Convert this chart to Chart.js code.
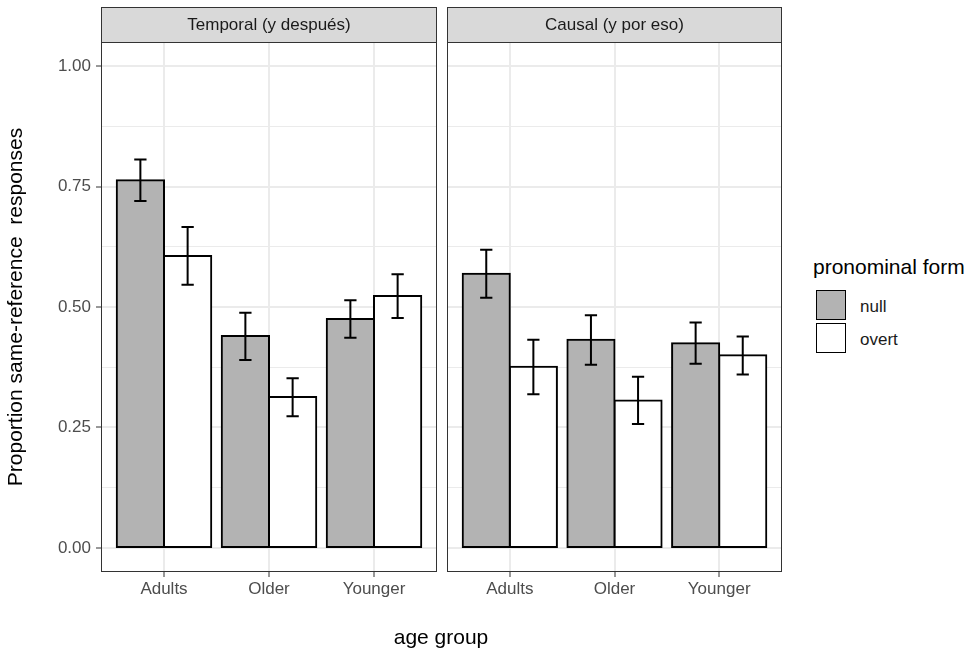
<!DOCTYPE html>
<html>
<head>
<meta charset="utf-8">
<script src="https://cdn.jsdelivr.net/npm/chart.js@4.4.1/dist/chart.umd.min.js"></script>
<style>
  html, body { margin: 0; padding: 0; background: #fff; }
  body { width: 973px; height: 650px; position: relative; overflow: hidden; font-family: "Liberation Sans", Arial, sans-serif; }
  .panel { position: absolute; top: 0; height: 650px; }
  #p1 { left: 0; width: 442px; }
  #p2 { left: 442px; width: 345px; }
  #xtitle { position: absolute; left: 341px; width: 200px; top: 626px; height: 21px; line-height: 21px; text-align: center; font-size: 21px; color: #000; }
  #legend { position: absolute; left: 813px; top: 256px; color: #000; }
  #legend .title { font-size: 21px; line-height: 21px; height: 21px; white-space: nowrap; }
  #legend .item { position: absolute; left: 3px; width: 150px; height: 33px; }
  #legend .key { position: absolute; left: 0; top: 0; width: 28px; height: 28px; border: 1.5px solid #000; }
  #legend .label { position: absolute; left: 44px; top: 8px; font-size: 17px; line-height: 17px; color: #1a1a1a; }
</style>
</head>
<body>
<div class="panel" id="p1"><canvas id="c1"></canvas></div>
<div class="panel" id="p2"><canvas id="c2"></canvas></div>
<div id="xtitle">age group</div>
<div id="legend">
  <div class="title">pronominal form</div>
  <div class="item" style="top:34px"><div class="key" style="background:#b3b3b3"></div><div class="label">null</div></div>
  <div class="item" style="top:67px"><div class="key" style="background:#ffffff"></div><div class="label">overt</div></div>
</div>
<script>
const ageGroups = ["Adults", "Older", "Younger"]
const facetLabels = ["Temporal (y después)", "Causal (y por eso)"]
const seriesNames = ["null", "overt"]

const temporalNull = [0.763, 0.440, 0.475]
const temporalNullLow = [0.720, 0.390, 0.436]
const temporalNullHigh = [0.806, 0.488, 0.514]
const temporalOvert = [0.606, 0.313, 0.523]
const temporalOvertLow = [0.546, 0.273, 0.477]
const temporalOvertHigh = [0.666, 0.352, 0.568]

const causalNull = [0.569, 0.432, 0.425]
const causalNullLow = [0.519, 0.380, 0.382]
const causalNullHigh = [0.619, 0.483, 0.468]
const causalOvert = [0.376, 0.306, 0.400]
const causalOvertLow = [0.319, 0.257, 0.360]
const causalOvertHigh = [0.432, 0.355, 0.439]

const yMajorTicks = [0, 0.25, 0.5, 0.75, 1]
const yMinorTicks = [0.125, 0.375, 0.625, 0.875]

Chart.defaults.font.family = '"Liberation Sans", Arial, sans-serif'
Chart.defaults.animation = false

const isMajor = (v) => yMajorTicks.some(t => Math.abs(t - v) < 1e-9)

// error bars on top of each bar
const errorBars = {
  id: "errorBars",
  afterDatasetsDraw(chart) {
    const ctx = chart.ctx
    const y = chart.scales.y
    ctx.save()
    ctx.strokeStyle = "#000"
    ctx.lineWidth = 2
    chart.data.datasets.forEach((ds, d) => {
      const meta = chart.getDatasetMeta(d)
      meta.data.forEach((bar, i) => {
        const top = y.getPixelForValue(ds.errHigh[i])
        const bottom = y.getPixelForValue(ds.errLow[i])
        const half = bar.width * 0.13
        ctx.beginPath()
        ctx.moveTo(bar.x, top); ctx.lineTo(bar.x, bottom)
        ctx.moveTo(bar.x - half, top); ctx.lineTo(bar.x + half, top)
        ctx.moveTo(bar.x - half, bottom); ctx.lineTo(bar.x + half, bottom)
        ctx.stroke()
      })
    })
    ctx.restore()
  }
}

// facet strip and panel border
const facetFrame = {
  id: "facetFrame",
  afterDraw(chart, args, opts) {
    const { ctx, chartArea: a } = chart
    ctx.save()
    ctx.fillStyle = "#d9d9d9"
    ctx.fillRect(a.left, a.top - 35, a.right - a.left, 35)
    ctx.strokeStyle = "#333"
    ctx.lineWidth = 1
    ctx.strokeRect(a.left + 0.5, a.top - 34.5, a.right - a.left - 1, 35)
    ctx.strokeRect(a.left + 0.5, a.top + 0.5, a.right - a.left - 1, a.bottom - a.top - 1)
    ctx.fillStyle = "#1a1a1a"
    ctx.font = '17px "Liberation Sans", Arial, sans-serif'
    ctx.textAlign = "center"
    ctx.textBaseline = "middle"
    ctx.fillText(opts.label, (a.left + a.right) / 2, a.top - 17)
    ctx.restore()
  }
}

function makeChart(id, label, nullVals, nullLow, nullHigh, overtVals, overtLow, overtHigh, withYAxis, padLeft, padRight) {
  return new Chart(document.getElementById(id), {
    type: "bar",
    data: {
      datasets: [
        {
          label: seriesNames[0],
          data: nullVals.map((v, i) => ({ x: i + 1, y: v })),
          errLow: nullLow, errHigh: nullHigh,
          backgroundColor: "#b3b3b3"
        },
        {
          label: seriesNames[1],
          data: overtVals.map((v, i) => ({ x: i + 1, y: v })),
          errLow: overtLow, errHigh: overtHigh,
          backgroundColor: "#ffffff"
        }
      ]
    },
    options: {
      responsive: true,
      maintainAspectRatio: false,
      layout: { padding: { left: padLeft, right: padRight, top: 42, bottom: 0 } },
      datasets: {
        bar: {
          borderColor: "#000", borderWidth: 2, borderSkipped: false, inflateAmount: 1,
          categoryPercentage: 0.9, barPercentage: 1.0
        }
      },
      plugins: {
        legend: { display: false },
        tooltip: { enabled: false },
        facetFrame: { label: label }
      },
      scales: {
        x: {
          type: "linear",
          min: 0.4,
          max: 3.6,
          offset: false,
          afterBuildTicks(scale) { scale.ticks = ageGroups.map((g, i) => ({ value: i + 1 })) },
          afterFit(scale) { scale.height = 78 },
          border: { display: false },
          grid: { offset: false, color: "#ebebeb", lineWidth: 2, tickColor: "#333", tickLength: 5, tickWidth: 1 },
          ticks: {
            color: "#4d4d4d", font: { size: 17 }, padding: 2, autoSkip: false, maxRotation: 0,
            callback: (v) => ageGroups[Math.round(v) - 1]
          }
        },
        y: {
          type: "linear",
          min: -0.05,
          max: 1.05,
          afterBuildTicks(scale) {
            scale.ticks = [...yMajorTicks, ...yMinorTicks].sort((a, b) => a - b).map(v => ({ value: v }))
          },
          afterFit(scale) { scale.width = withYAxis ? 101 : 0 },
          border: { display: false },
          grid: {
            color: "#ebebeb",
            lineWidth: (c) => isMajor(c.tick.value) ? 2 : 1,
            drawTicks: withYAxis,
            tickColor: (c) => isMajor(c.tick.value) ? "#333" : "rgba(0,0,0,0)",
            tickLength: 5,
            tickWidth: 1
          },
          ticks: {
            display: withYAxis,
            color: "#4d4d4d", font: { size: 17 }, padding: 5,
            callback: (v) => isMajor(v) ? v.toFixed(2) : ""
          },
          title: {
            display: withYAxis,
            text: "Proportion same-reference  responses",
            color: "#000",
            font: { size: 21 },
            padding: { top: 4, bottom: 0 }
          }
        }
      }
    },
    plugins: [errorBars, facetFrame]
  })
}

makeChart("c1", facetLabels[0], temporalNull, temporalNullLow, temporalNullHigh,
  temporalOvert, temporalOvertLow, temporalOvertHigh, true, 0, 5)
makeChart("c2", facetLabels[1], causalNull, causalNullLow, causalNullHigh,
  causalOvert, causalOvertLow, causalOvertHigh, false, 5, 5)
</script>
</body>
</html>
